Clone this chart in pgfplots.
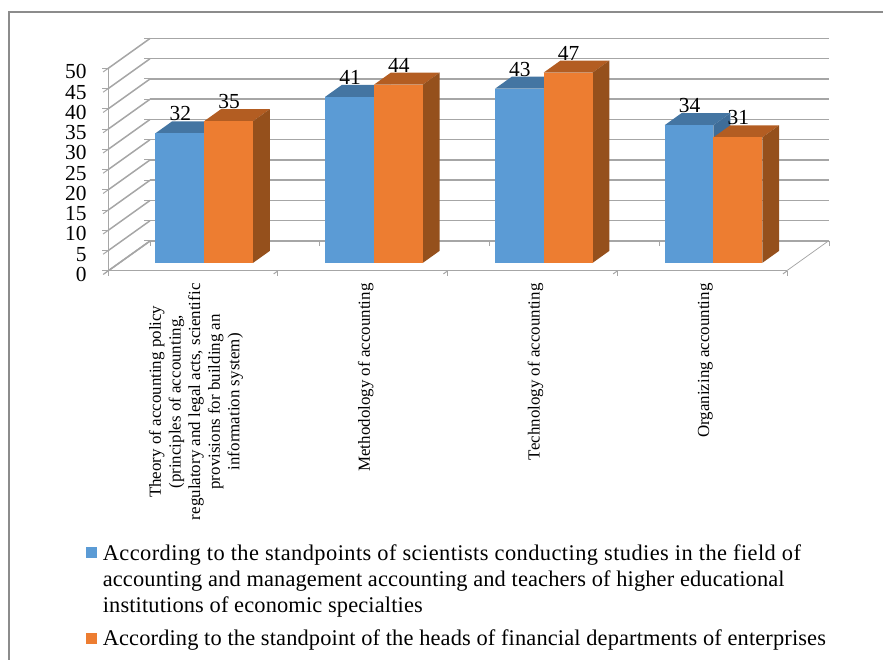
\documentclass[border=0pt]{standalone}
\usepackage{pgfplots}
\pgfplotsset{compat=1.18}
\usepackage{fontspec}
\setmainfont{Liberation Serif}

\definecolor{barblue}{HTML}{5B9BD5}
\definecolor{bluetop}{HTML}{4475A2}
\definecolor{blueside}{HTML}{3F6D98}
\definecolor{barorange}{HTML}{ED7D31}
\definecolor{orangetop}{HTML}{B35D22}
\definecolor{orangeside}{HTML}{95501C}
\definecolor{gridgray}{HTML}{A6A6A6}

% one box: x from #1 to #2, height #3, colours #4 front #5 top #6 side
\newcommand{\cube}[6]{%
  \addplot3[fill=#5,draw=none,forget plot] coordinates {(#1,0.27,#3) (#2,0.27,#3) (#2,0.67,#3) (#1,0.67,#3)} -- cycle;
  \addplot3[fill=#6,draw=none,forget plot] coordinates {(#2,0.27,0) (#2,0.67,0) (#2,0.67,#3) (#2,0.27,#3)} -- cycle;
  \addplot3[fill=#4,draw=none,forget plot] coordinates {(#1,0.27,0) (#2,0.27,0) (#2,0.27,#3) (#1,0.27,#3)} -- cycle;
}

\begin{document}
\begin{tikzpicture}[x=1bp,y=1bp]
\path[use as bounding box] (0,0) rectangle (883,660);
\draw[gray!90,line width=1.2bp] (9,0) -- (9,648) -- (883,648);
\begin{axis}[
  at={(108bp,389bp)}, anchor=origin,
  x={(169.75bp,0bp)}, y={(42bp,30bp)}, z={(0bp,4.05bp)},
  xmin=0, xmax=4, ymin=0, ymax=1, zmin=0, zmax=50,
  axis line style={draw=none},
  xtick={0.5,1.5,2.5,3.5},
  xticklabels={{Theory of accounting policy\\(principles of accounting,\\regulatory and legal acts, scientific\\provisions for building an\\information system)},
    Methodology of accounting,Technology of accounting,Organizing accounting},
  minor xtick={0,1,2,3,4},
  ytick=\empty,
  ztick={0,5,...,50},
  zmajorgrids,
  xtick pos=left, ztick pos=left,
  major grid style={gridgray,line width=1.5bp},
  major tick length=6bp,
  minor tick length=5bp,
  tick align=outside,
  tick style={gridgray,line width=1bp},
  major x tick style={draw=none},
  xticklabel style={rotate=90,anchor=east,align=center,font=\fontsize{17}{19.7}\selectfont,yshift=-8bp,xshift=-5.5bp},
  zticklabel style={font=\fontsize{21.5}{22}\selectfont,anchor=east,xshift=-13bp},
  /pgf/number format/assume math mode=true,
  legend style={at={(-0.031,-1.167)},anchor=north west,draw=none,fill=none,
    nodes={text depth=},cells={anchor=base west},
    font=\fontsize{22.5}{26}\selectfont\addfontfeature{LetterSpace=0.6},row sep=9bp,inner sep=0pt},
  legend image code/.code={\path[#1] (0bp,2bp) rectangle (11bp,13bp); \path (15bp,0bp);},
]
% floor outline and left axis line
\addplot3[gridgray,line width=1.5bp,forget plot] coordinates {(0,1,0) (0,0,0) (4,0,0) (4,1,0)};
\addplot3[gridgray,line width=1.5bp,forget plot] coordinates {(0,0,0) (0,0,50)};

\addlegendimage{fill=barblue,draw=none}
\addlegendentry{\parbox[t]{760bp}{{\addfontfeature{LetterSpace=1.9}According to the standpoints of scientists conducting studies in the field of}\\accounting and management accounting and teachers of higher educational\\institutions of economic specialties}}
\addlegendimage{fill=barorange,draw=none}
\addlegendentry{According to the standpoint of the heads of financial departments of enterprises}

\cube{0.2125}{0.5}{32}{barblue}{bluetop}{blueside}
\cube{0.5}{0.7875}{35}{barorange}{orangetop}{orangeside}
\cube{1.2125}{1.5}{41}{barblue}{bluetop}{blueside}
\cube{1.5}{1.7875}{44}{barorange}{orangetop}{orangeside}
\cube{2.2125}{2.5}{43}{barblue}{bluetop}{blueside}
\cube{2.5}{2.7875}{47}{barorange}{orangetop}{orangeside}
\cube{3.2125}{3.5}{34}{barblue}{bluetop}{blueside}
\cube{3.5}{3.7875}{31}{barorange}{orangetop}{orangeside}

% value labels
\addplot3[only marks,mark=none,forget plot,
  nodes near coords=\pgfmathprintnumber{\pgfplotspointmeta},
  point meta=z,
  every node near coord/.style={font=\fontsize{21.5}{22}\selectfont,anchor=south,yshift=11bp,xshift=0.5bp,inner sep=1bp,/pgf/number format/assume math mode=true},
] coordinates {(0.356,0.27,32) (0.644,0.27,35) (1.356,0.27,41) (1.644,0.27,44)
  (2.356,0.27,43) (2.644,0.27,47) (3.356,0.27,34) (3.644,0.27,31)};
\end{axis}
\end{tikzpicture}
\end{document}
